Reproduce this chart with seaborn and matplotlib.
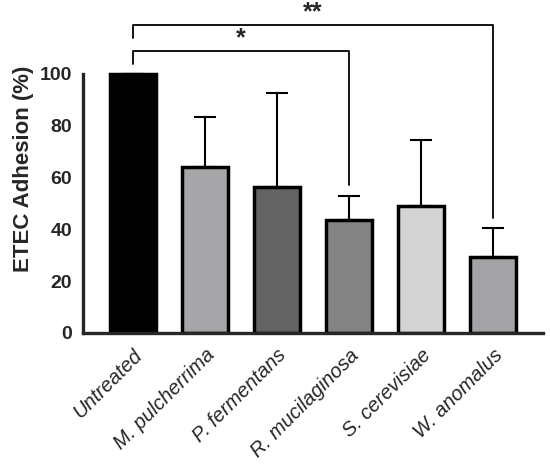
import numpy as np
import matplotlib
matplotlib.use("Agg")
import matplotlib.pyplot as plt
import seaborn as sns

# data
groups = ["Untreated", "M. pulcherrima", "P. fermentans", "R. mucilaginosa",
          "S. cerevisiae", "W. anomalus"]
adhesion = [100, 64, 56.5, 43.5, 49, 29.5]
sd_upper = [0, 19.5, 36, 9.5, 25.5, 11]
bar_colors = ["#000000", "#a6a6a8", "#636363", "#838383", "#d4d4d4", "#a3a3a5"]

# significance brackets: (left group, right group, label)
sig_pairs = [(0, 3, "*"), (0, 5, "**")]

sns.set_style("white")
plt.rcParams["font.family"] = ["Liberation Sans", "DejaVu Sans"]

fig = plt.figure(figsize=(5.5, 4.74), dpi=100)
ax = fig.add_axes([0.151, 0.2975, 0.836, 0.694])

sns.barplot(x=groups, y=adhesion, hue=groups, palette=bar_colors, legend=False,
            edgecolor="black", linewidth=2.5, width=0.64, ax=ax)
ax.errorbar(np.arange(len(groups)), adhesion,
            yerr=[np.zeros(len(groups)), sd_upper], fmt="none",
            ecolor="black", elinewidth=1.5, capsize=8, capthick=1.5, zorder=1)

ax.set_xlim(-0.69, 5.69)
ax.set_ylim(0, 127)
ax.set_yticks(range(0, 101, 20))
ax.spines["left"].set_bounds(0, 100)
ax.spines["top"].set_visible(False)
ax.spines["right"].set_visible(False)
for s in ["left", "bottom"]:
    ax.spines[s].set_linewidth(2.4)

ax.tick_params(axis="both", direction="out", length=6, width=2.4, color="black")
ax.tick_params(axis="y", labelsize=14, pad=2)
ax.tick_params(axis="x", labelsize=14.5, pad=3)
for lab in ax.get_yticklabels():
    lab.set_fontweight("bold")
ax.set_xticks(range(len(groups)))
ax.set_xticklabels(groups, rotation=45, ha="right", va="top",
                   rotation_mode="anchor", style="italic")
ax.set_ylabel("ETEC Adhesion (%)", fontsize=16, fontweight="bold", labelpad=4)
ax.set_xlabel("")

# brackets
levels = [109, 119]
for (i, j, label), h in zip(sig_pairs, levels):
    right_end = adhesion[j] + sd_upper[j] + 4
    ax.plot([i, i, j, j], [h - 5, h, h, right_end], color="black", lw=1.3,
            clip_on=False)
    ax.text((i + j) / 2, h + 0.3, label, ha="center", va="bottom",
            fontsize=18, fontweight="bold")

fig.savefig("out.png", dpi=100)
